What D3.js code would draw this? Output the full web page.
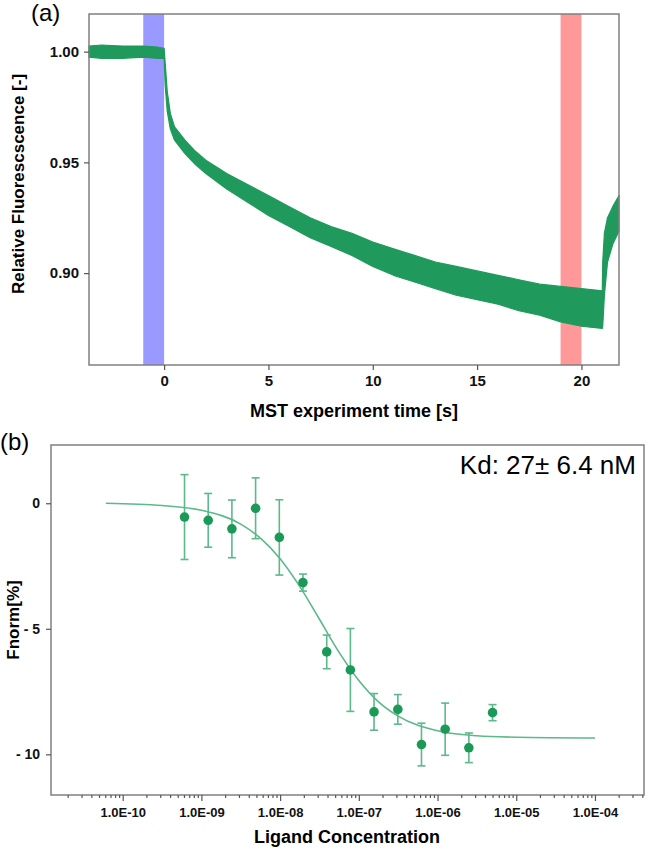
<!DOCTYPE html>
<html><head><meta charset="utf-8">
<script src="https://cdn.jsdelivr.net/npm/d3@7"></script>
<style>
html,body{margin:0;padding:0;background:#fff;}
text{font-family:"Liberation Sans",Arial,sans-serif;}
</style>
</head><body>
<script>
// ---------- Panel (a) data: MST traces (envelope of the trace bundle) ----------
const timeA  = [-3.6,-3,-2,-1,-0.3,0,0.05,0.15,0.3,0.5,1,1.5,2,3,4,5,6,7,8,9,10,11,12,13,14,15,16,17,18,19,20,21,21.02,21.1,21.25,21.5,21.8];
const upperA = [1.0025,1.003,1.0025,1.0025,1.002,1.0015,0.995,0.982,0.972,0.966,0.960,0.955,0.951,0.945,0.940,0.935,0.930,0.925,0.921,0.918,0.914,0.911,0.908,0.905,0.903,0.901,0.899,0.897,0.895,0.894,0.893,0.892,0.905,0.918,0.925,0.930,0.935];
const lowerA = [0.9975,0.997,0.997,0.9975,0.997,0.997,0.985,0.973,0.965,0.960,0.954,0.949,0.945,0.938,0.932,0.926,0.921,0.916,0.912,0.908,0.903,0.899,0.896,0.893,0.890,0.888,0.886,0.883,0.881,0.878,0.876,0.875,0.876,0.890,0.905,0.913,0.919];
const blueBand = [-1, 0];
const redBand  = [19, 20];
const ticksAx = [0, 5, 10, 15, 20];
const ticksAy = [0.90, 0.95, 1.00];

// ---------- Panel (b) data: dose response ----------
const concB  = [6.10e-10,1.22e-9,2.44e-9,4.88e-9,9.77e-9,1.95e-8,3.91e-8,7.81e-8,1.56e-7,3.13e-7,6.25e-7,1.25e-6,2.5e-6,5e-6];
const fnormB = [-0.55,-0.68,-1.02,-0.20,-1.36,-3.16,-5.92,-6.64,-8.31,-8.21,-9.61,-9.00,-9.74,-8.34];
const errB   = [1.69,1.07,1.15,1.21,1.50,0.34,0.67,1.65,0.73,0.59,0.85,1.04,0.59,0.32];
const fitConc = [6.1e-11,3.16e-10,1e-9,3.16e-9,5.62e-9,1e-8,1.78e-8,3.16e-8,5.62e-8,1e-7,1.78e-7,3.16e-7,1e-6,3.16e-6,1e-5,1e-4];
const fitVal  = [0,-0.09,-0.28,-0.83,-1.39,-2.21,-3.32,-4.62,-5.94,-7.06,-7.91,-8.48,-9.06,-9.26,-9.32,-9.35];
const ticksBy = [0, -5, -10];
const kdText = "Kd: 27\u00b1 6.4 nM";

// ---------- drawing ----------
const W = 648, H = 849;
const svg = d3.select("body").append("svg").attr("width", W).attr("height", H);
const green = "#1f9a5c", lightGreen = "#5bb98b", axisGray = "#808080";

// Panel (a)
const xA = d3.scaleLinear().domain([-3.6, 21.8]).range([89, 619]);
const yA = d3.scaleLinear().domain([0.8585, 1.017]).range([365, 14]);
const gA = svg.append("g");
gA.append("rect").attr("x", xA(blueBand[0])).attr("y", yA.range()[1])
  .attr("width", xA(blueBand[1]) - xA(blueBand[0])).attr("height", yA.range()[0] - yA.range()[1])
  .attr("fill", "#9999ff");
gA.append("rect").attr("x", xA(redBand[0])).attr("y", yA.range()[1])
  .attr("width", xA(redBand[1]) - xA(redBand[0])).attr("height", yA.range()[0] - yA.range()[1])
  .attr("fill", "#ff9999");
const bandData = timeA.map((t, i) => ({t, u: upperA[i], l: lowerA[i]}));
gA.append("path").datum(bandData)
  .attr("d", d3.area().x(d => xA(d.t)).y0(d => yA(d.l)).y1(d => yA(d.u)))
  .attr("fill", green).attr("stroke", green).attr("stroke-width", 1.2).attr("stroke-linejoin", "round");

gA.append("rect").attr("x", 89).attr("y", 14).attr("width", 530).attr("height", 351)
  .attr("fill", "none").attr("stroke", axisGray).attr("stroke-width", 1.5);
const axAx = gA.append("g").attr("transform", "translate(0,365)")
  .call(d3.axisBottom(xA).tickValues(ticksAx).tickSize(5).tickPadding(5).tickFormat(d3.format("d")));
const axAy = gA.append("g").attr("transform", "translate(89,0)")
  .call(d3.axisLeft(yA).tickValues(ticksAy).tickSize(5).tickPadding(5).tickFormat(d3.format(".2f")));
[axAx, axAy].forEach(a => {
  a.select(".domain").remove();
  a.selectAll("line").attr("stroke", "#555").attr("stroke-width", 1.2);
  a.selectAll("text").attr("font-size", 15).attr("font-weight", "bold").attr("fill", "#111")
    .attr("font-family", "Liberation Sans, Arial, sans-serif");
});
gA.append("text").attr("x", 354).attr("y", 417).attr("text-anchor", "middle")
  .attr("font-size", 18).attr("font-weight", "bold").text("MST experiment time [s]");
gA.append("text").attr("transform", "translate(24,184) rotate(-90)").attr("text-anchor", "middle")
  .attr("font-size", 17).attr("font-weight", "bold").text("Relative Fluorescscence [-]");
gA.append("text").attr("x", 31).attr("y", 21).attr("font-size", 24).text("(a)");

// Panel (b)
const xB = d3.scaleLog().domain([Math.pow(10, -10.911), Math.pow(10, -3.377)]).range([51, 644]);
const yB = d3.scaleLinear().domain([-11.62, 2.32]).range([795, 445]);
const gB = svg.append("g");
gB.append("rect").attr("x", 51).attr("y", 445).attr("width", 593).attr("height", 350)
  .attr("fill", "none").attr("stroke", axisGray).attr("stroke-width", 1.5);

const fitData = fitConc.map((c, i) => ({c, v: fitVal[i]}));
gB.append("path").datum(fitData)
  .attr("d", d3.line().x(d => xB(d.c)).y(d => yB(d.v)).curve(d3.curveMonotoneX))
  .attr("fill", "none").attr("stroke", lightGreen).attr("stroke-width", 1.6);

const pts = concB.map((c, i) => ({c, v: fnormB[i], e: errB[i]}));
const eb = gB.append("g").attr("stroke", lightGreen).attr("stroke-width", 1.6);
pts.forEach(p => {
  const x = xB(p.c);
  eb.append("line").attr("x1", x).attr("x2", x).attr("y1", yB(p.v + p.e)).attr("y2", yB(p.v - p.e));
  eb.append("line").attr("x1", x - 4).attr("x2", x + 4).attr("y1", yB(p.v + p.e)).attr("y2", yB(p.v + p.e));
  eb.append("line").attr("x1", x - 4).attr("x2", x + 4).attr("y1", yB(p.v - p.e)).attr("y2", yB(p.v - p.e));
});
gB.selectAll("circle.pt").data(pts).enter().append("circle")
  .attr("cx", d => xB(d.c)).attr("cy", d => yB(d.v)).attr("r", 4.8).attr("fill", "#1b9a57");

const allTicks = xB.ticks().filter(v => xB(v) >= 51 && xB(v) <= 644);
const isMajor = v => Math.abs(Math.log10(v) - Math.round(Math.log10(v))) < 1e-6;
const fmtE = v => { const e = Math.round(Math.log10(v)); return "1.0E" + (e < 0 ? "-" : "+") + String(Math.abs(e)).padStart(2, "0"); };
const axBx = gB.append("g").attr("transform", "translate(0,795)")
  .call(d3.axisBottom(xB).tickValues(allTicks).tickSize(3).tickPadding(10).tickFormat(v => isMajor(v) ? fmtE(v) : ""));
axBx.selectAll(".tick").filter(v => isMajor(v)).select("line").attr("y2", 6);
const axBy = gB.append("g").attr("transform", "translate(51,0)")
  .call(d3.axisLeft(yB).tickValues(ticksBy).tickSize(5).tickPadding(6).tickFormat(v => v === 0 ? "0" : "- " + Math.abs(v)));
[axBx, axBy].forEach(a => {
  a.select(".domain").remove();
  a.selectAll("line").attr("stroke", "#555").attr("stroke-width", 1.2);
  a.selectAll("text").attr("font-weight", "bold").attr("fill", "#111")
    .attr("font-family", "Liberation Sans, Arial, sans-serif");
});
axBx.selectAll("text").attr("font-size", 13);
axBy.selectAll("text").attr("font-size", 14);
gB.append("text").attr("x", 347).attr("y", 843).attr("text-anchor", "middle")
  .attr("font-size", 18).attr("font-weight", "bold").text("Ligand Concentration");
gB.append("text").attr("transform", "translate(19,620) rotate(-90)").attr("text-anchor", "middle")
  .attr("font-size", 17).attr("font-weight", "bold").text("Fnorm[%]");
gB.append("text").attr("x", 0).attr("y", 450).attr("font-size", 24).text("(b)");
gB.append("text").attr("x", 636).attr("y", 474).attr("text-anchor", "end")
  .attr("font-size", 26).text(kdText);
</script>
</body></html>
